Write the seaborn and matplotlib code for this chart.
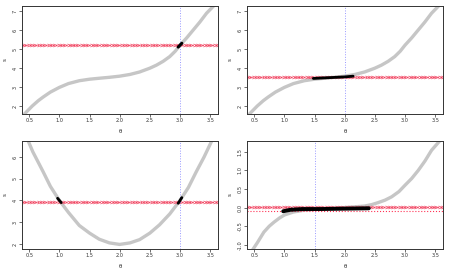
import numpy as np
import pandas as pd
import matplotlib
matplotlib.use("Agg")
import matplotlib.pyplot as plt
import seaborn as sns

# courbe du haut (memes valeurs pour les deux panneaux du haut)
x_cub = [0.42, 0.55, 0.65, 0.73, 0.85, 1.0, 1.15, 1.33, 1.5, 1.66, 1.83, 2.0, 2.17,
         2.33, 2.5, 2.61, 2.72, 2.83, 2.92, 3.0, 3.11, 3.22, 3.33, 3.44, 3.6]
y_cub = [1.58, 2.0, 2.28, 2.47, 2.73, 2.98, 3.18, 3.33, 3.41, 3.46, 3.51, 3.57, 3.66,
         3.79, 3.99, 4.15, 4.35, 4.6, 4.88, 5.2, 5.58, 6.0, 6.42, 6.88, 7.4]

# parabole (bas gauche)
x_par = [0.45, 0.48, 0.56, 0.65, 0.73, 0.85, 1.0, 1.15, 1.33, 1.5, 1.66, 1.83, 2.0,
         2.17, 2.33, 2.5, 2.66, 2.83, 3.0, 3.14, 3.27, 3.4, 3.52, 3.58]
y_par = [7.0, 6.75, 6.23, 5.75, 5.32, 4.65, 4.0, 3.45, 2.85, 2.5, 2.22, 2.05, 1.98,
         2.05, 2.2, 2.5, 2.88, 3.38, 4.0, 4.6, 5.32, 6.0, 6.7, 7.0]

# courbe centree (bas droite)
x_cen = [0.45, 0.48, 0.55, 0.66, 0.75, 0.83, 0.92, 1.0, 1.15, 1.33, 1.5, 1.66, 1.83,
         2.0, 2.17, 2.33, 2.45, 2.55, 2.67, 2.78, 2.9, 3.0, 3.11, 3.22, 3.33, 3.44, 3.58]
y_cen = [-1.2, -1.12, -0.95, -0.66, -0.5, -0.39, -0.28, -0.2, -0.12, -0.07, -0.05,
         -0.04, -0.02, 0.0, 0.02, 0.04, 0.08, 0.13, 0.2, 0.29, 0.43, 0.6, 0.78, 1.0,
         1.25, 1.54, 1.8]

# points noirs selectionnes
noir_1 = ([2.97, 3.0, 3.03], [5.1, 5.2, 5.3])
noir_2 = ([1.48, 1.6, 1.8, 2.0, 2.14], [3.45, 3.47, 3.5, 3.53, 3.57])
noir_3 = ([0.97, 1.0, 1.03], [4.1, 4.0, 3.9])
noir_4 = ([2.97, 3.0, 3.03], [3.87, 4.0, 4.13])
noir_5 = ([0.98, 1.1, 1.3, 1.6, 2.0, 2.4], [-0.1, -0.06, -0.04, -0.04, -0.03, -0.02])

niveaux = [5.2, 3.52, 3.95, 0.01]
niveau_bis = -0.08
verticales = [3.0, 2.0, 3.0, 1.5]

sns.set_theme(style="white")
plt.rcParams['font.family'] = ['DejaVu Sans']

fig = plt.figure(figsize=(4.5, 2.7), dpi=100)
w, h = 196 / 450, 108 / 270
pos = [(22 / 450, 1 - 114 / 270), (247 / 450, 1 - 114 / 270),
       (22 / 450, 1 - 249 / 270), (247 / 450, 1 - 249 / 270)]

courbes = [(x_cub, y_cub), (x_cub, y_cub), (x_par, y_par), (x_cen, y_cen)]
noirs = [[noir_1], [noir_2], [noir_3, noir_4], [noir_5]]
epaisseur_noir = [2.2, 2.0, 2.0, 2.8]
ylims = [(1.58, 7.26), (1.58, 7.26), (1.77, 6.73), (-1.115, 1.79)]
yticks = [[2, 3, 4, 5, 6, 7], [2, 3, 4, 5, 6, 7], [2, 3, 4, 5, 6],
          [-1.0, -0.5, 0.0, 0.5, 1.0, 1.5]]

for i in range(4):
    ax = fig.add_axes([pos[i][0], pos[i][1], w, h])
    xlim = (0.38, 3.63)
    cx, cy = courbes[i]
    sns.lineplot(x=cx, y=cy, ax=ax, color="#c6c6c6", linewidth=2.4, sort=False,
                 estimator=None)
    # ligne rouge horizontale avec des ">"
    xs = np.linspace(xlim[0], xlim[1], 60)
    ax.plot(xs, [niveaux[i]] * len(xs), color="#f03050", linestyle=":", linewidth=0.7,
            marker="$>$", markersize=2.8, markeredgewidth=0.15, alpha=0.85)
    if i == 3:
        ax.axhline(niveau_bis, color="#ff3355", linestyle=":", linewidth=0.8)
    ax.axvline(verticales[i], color="#9999ff", linestyle=":", linewidth=0.7)
    for nx, ny in noirs[i]:
        sns.lineplot(x=nx, y=ny, ax=ax, color="black", linewidth=epaisseur_noir[i],
                     sort=False, estimator=None)
    ax.set_xlim(xlim)
    ax.set_ylim(ylims[i])
    ax.set_xticks([0.5, 1.0, 1.5, 2.0, 2.5, 3.0, 3.5])
    ax.set_yticks(yticks[i])
    if i == 3:
        ax.set_yticklabels([f"{v:.1f}" for v in yticks[i]])
    ax.tick_params(axis="both", labelsize=3.6, length=2, width=0.5, pad=1,
                   direction="out", left=True, bottom=True, colors="#333333")
    for lab in ax.get_yticklabels():
        lab.set_rotation(90)
        lab.set_va("center")
    for s in ax.spines.values():
        s.set_color("#333333")
        s.set_linewidth(0.7)
    ax.set_xlabel("θ", fontsize=4, labelpad=4)
    ax.set_ylabel("s", fontsize=4, labelpad=4)

fig.savefig("out.png", dpi=100)
